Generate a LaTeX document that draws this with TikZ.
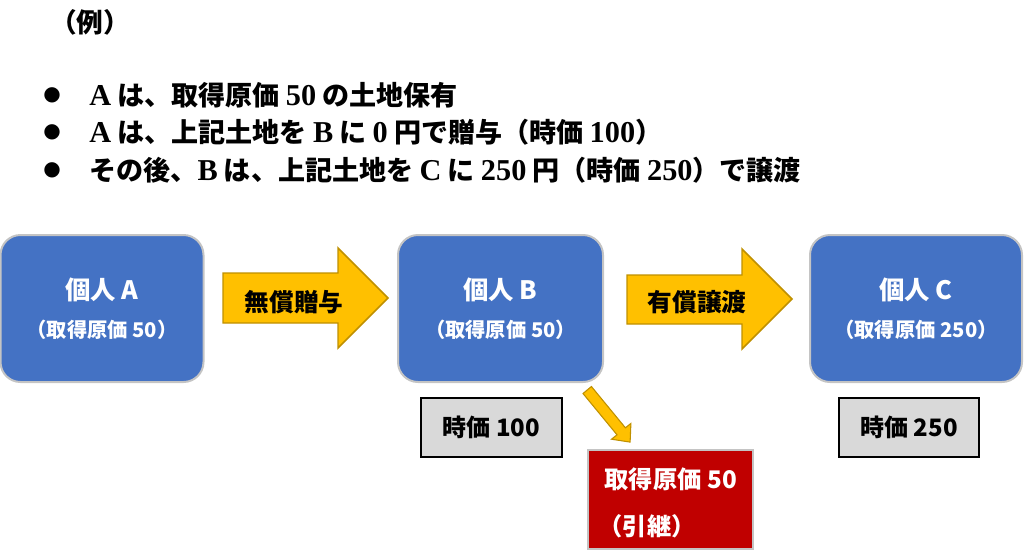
\documentclass[tikz,border=0pt]{standalone}
\usepackage{fontspec}
\setmainfont{Noto Sans CJK JP}
\newfontfamily\latf[Scale=1.12]{Liberation Serif}
\newfontfamily\symf{DejaVu Sans}
\newcommand\lt[1]{{\latf\bfseries #1}}
\definecolor{pblue}{HTML}{4472C4}
\definecolor{pedge}{HTML}{C4C4C4}
\definecolor{ayel}{HTML}{FFC000}
\definecolor{aedge}{HTML}{BF9000}
\definecolor{gbox}{HTML}{D9D9D9}
\definecolor{rbox}{HTML}{C00000}
\begin{document}
\begin{tikzpicture}[x=0.75pt,y=-0.75pt,
  person/.style={draw=pedge, line width=1.5pt, fill=pblue, rounded corners=15pt, minimum height=110.25pt},
  ttl/.style={text=white, font=\fontsize{19}{22}\selectfont\bfseries},
  sub/.style={text=white, font=\fontsize{15.2}{18}\selectfont\bfseries},
  bigarrow/.style={fill=ayel, draw=aedge, line width=1.1pt, line join=miter},
  alabel/.style={text=black, font=\fontsize{18.5}{22}\selectfont\bfseries},
  pricebox/.style={draw=black, line width=1.1pt, fill=gbox, minimum width=105.5pt, minimum height=44.25pt, font=\fontsize{18}{21}\selectfont\bfseries},
  listtext/.style={anchor=west, inner sep=0pt, font=\fontsize{20.3}{24}\selectfont\bfseries},
  bul/.style={inner sep=0pt, font=\fontsize{15}{18}\selectfont\symf},
  redtext/.style={anchor=west, text=white, font=\fontsize{18.2}{21}\selectfont\bfseries}
]
\useasboundingbox (0,0) rectangle (1024,551);

% header
\node[inner sep=0pt, font=\fontsize{20}{24}\selectfont\bfseries] (ex) at (90,22) {（例）};
\node[bul] (b1) at (52,95) {●};
\node[bul] (b2) at (52,132.5) {●};
\node[bul] (b3) at (52,170) {●};
\node[listtext] (l1) at (89,95) {\lt{A} は、取得原価 \lt{50} の土地保有};
\node[listtext] (l2) at (89,132.5) {\lt{A} は、上記土地を \lt{B} に \lt{0} 円で贈与（時価 \lt{100}）};
\node[listtext] (l3) at (89,170) {その後、\lt{B} は、上記土地を \lt{C} に \lt{250} 円（時価 \lt{250}）で譲渡};

% persons
\node[person, minimum width=152.25pt] (A) at (102,308.5) {};
\node[person, minimum width=153.75pt] (B) at (500.5,308.5) {};
\node[person, minimum width=159pt] (C) at (916,308.5) {};
\node[ttl] (At) at (102,290) {個人 A};
\node[sub] (As) at (102,330) {（取得原価 50）};
\node[ttl] (Bt) at (500.5,290) {個人 B};
\node[sub] (Bs) at (500.5,330) {（取得原価 50）};
\node[ttl] (Ct) at (916,290) {個人 C};
\node[sub] (Cs) at (916,330) {（取得原価 250）};

% big arrows
\draw[bigarrow] (223,273) -- (338,273) -- (338,248) -- (388,298) -- (338,348) -- (338,323) -- (223,323) -- cycle;
\node[alabel] (g1) at (294,302) {無償贈与};
\draw[bigarrow] (627,275) -- (742,275) -- (742,249) -- (792,299) -- (742,349) -- (742,324) -- (627,324) -- cycle;
\node[alabel] (g2) at (697,302) {有償譲渡};

% price boxes
\node[pricebox] (pB) at (491.5,427.5) {時価 100};
\node[pricebox, minimum width=105pt] (pC) at (909,427.5) {時価 250};

% red box
\node[draw=pedge, line width=0.8pt, fill=rbox, minimum width=123.75pt, minimum height=74.25pt] (R) at (670.5,499.5) {};
\node[redtext] (R1) at (600,479) {取得原価 50};
\node[redtext] (R2) at (594,526) {（引継）};

% small diagonal arrow
\draw[bigarrow, line width=0.8pt] (583.0,393.5) -- (591.4,386.5) -- (625.4,427.8) -- (630.9,423.4) -- (630.1,442.1) -- (611.5,439.2) -- (617.0,434.8) -- cycle;
\end{tikzpicture}
\end{document}
